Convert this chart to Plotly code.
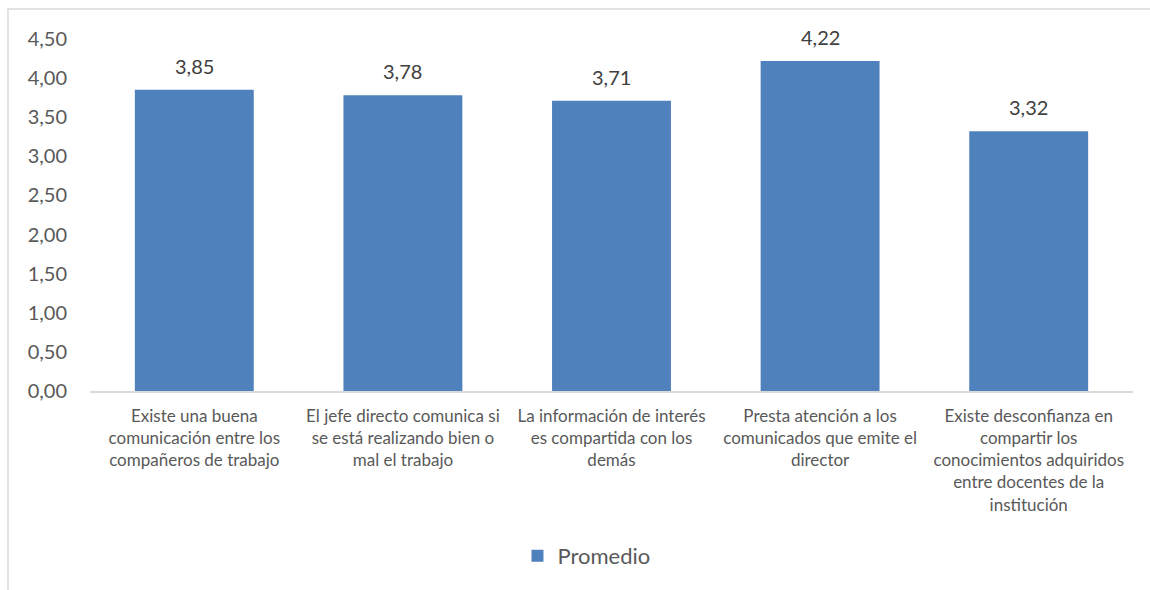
import plotly.graph_objects as go

# Survey items (x-axis categories) and their mean scores
categorias = [
    "Existe una buena<br>comunicación entre los<br>compañeros de trabajo",
    "El jefe directo comunica si<br>se está realizando bien o<br>mal el trabajo",
    "La información de interés<br>es compartida con los<br>demás",
    "Presta atención a los<br>comunicados que emite el<br>director",
    "Existe desconfianza en<br>compartir los<br>conocimientos adquiridos<br>entre docentes de la<br>institución",
]
promedio = [3.85, 3.78, 3.71, 4.22, 3.32]
y_ticks = [0, 0.5, 1.0, 1.5, 2.0, 2.5, 3.0, 3.5, 4.0, 4.5]

FONT = "Lato"
GRIS = "#595959"
AZUL = "#4F81BD"

W, H = 1150, 590
L, R, T, B = 90, 17, 39, 199
pw, ph = W - L - R, H - T - B

fig = go.Figure()
fig.add_trace(go.Bar(
    x=categorias, y=promedio, name="Promedio",
    marker=dict(color=AZUL, line=dict(width=0)),
    width=0.57,
))

# value labels above each bar
for c, v in zip(categorias, promedio):
    fig.add_annotation(
        x=c, y=v, text=f"{v:.2f}".replace(".", ","), showarrow=False,
        yanchor="bottom", yshift=10,
        font=dict(family=FONT, size=20, color="#404040"),
    )

# outer chart frame (light gray)
fig.add_shape(
    type="rect", xref="paper", yref="paper",
    x0=(8 - L) / pw, x1=(W + 20 - L) / pw,
    y0=(T + ph - (H + 20)) / ph, y1=(T + ph - 9) / ph,
    line=dict(color="#D9D9D9", width=1.5), fillcolor="rgba(0,0,0,0)",
    layer="below",
)

fig.update_layout(
    width=W, height=H,
    margin=dict(l=L, r=R, t=T, b=B),
    paper_bgcolor="white", plot_bgcolor="white",
    separators=",.",
    font=dict(family=FONT, color=GRIS),
    showlegend=True,
    legend=dict(
        orientation="h", x=0.476, xanchor="center",
        y=(T + ph - 556) / ph, yanchor="middle",
        font=dict(family=FONT, size=22, color=GRIS),
        itemsizing="constant",
    ),
    xaxis=dict(
        showline=True, linecolor="#D9D9D9", linewidth=1.5,
        showgrid=False, ticks="",
        tickfont=dict(family=FONT, size=17, color=GRIS),
        ticklabelstandoff=9,
    ),
    yaxis=dict(
        range=[0, 4.5], tickvals=y_ticks, tickformat=".2f",
        showgrid=False, zeroline=False, showline=False, ticks="",
        tickfont=dict(family=FONT, size=20, color=GRIS),
        ticklabelstandoff=22,
    ),
    bargap=0.43,
)

fig.write_html("out.html")
